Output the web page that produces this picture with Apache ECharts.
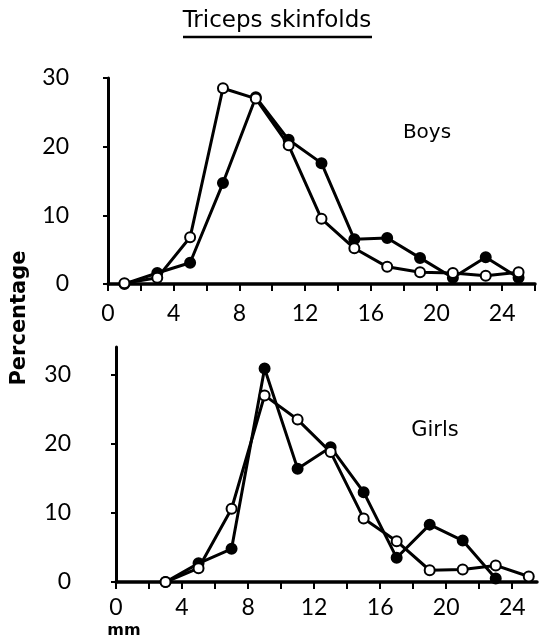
<!DOCTYPE html>
<html>
<head>
<meta charset="utf-8">
<script src="https://cdn.jsdelivr.net/npm/echarts@6/dist/echarts.min.js"></script>
<style>
  html, body { margin: 0; padding: 0; background: #fff; }
  #chart { width: 542px; height: 640px; }
</style>
</head>
<body>
<div id="chart"></div>
<script>
// 数据：中点 (mm) 与百分比
var boysX = [1, 3, 5, 7, 9, 11, 13, 15, 17, 19, 21, 23, 25];
var boysOpen = [0.1, 0.9, 6.8, 28.5, 27, 20.2, 9.5, 5.2, 2.5, 1.7, 1.6, 1.2, 1.7];
var boysFilled = [0, 1.6, 3.1, 14.7, 27.2, 21, 17.6, 6.5, 6.7, 3.8, 0.9, 3.9, 0.9];

var girlsX = [3, 5, 7, 9, 11, 13, 15, 17, 19, 21, 23, 25];
var girlsOpen = [0, 2.0, 10.6, 27, 23.5, 18.8, 9.2, 5.9, 1.7, 1.8, 2.4, 0.8];
var girlsFilledX = [3, 5, 7, 9, 11, 13, 15, 17, 19, 21, 23];
var girlsFilled = [0, 2.7, 4.8, 30.9, 16.4, 19.5, 13, 3.5, 8.3, 6, 0.5];

var xTicks = [0, 2, 4, 6, 8, 10, 12, 14, 16, 18, 20, 22, 24, 26];
var xLabels = [0, 4, 8, 12, 16, 20, 24];
var yTicks = [0, 10, 20, 30];

var font = "Lato";
var textFont = "DejaVu Sans";

function pairs(xs, ys) {
    return xs.map(function (x, i) { return [x, ys[i]]; });
}

function xAxisOf(gridIndex, max, margin) {
    return {
        type: "value",
        gridIndex: gridIndex,
        min: 0,
        max: max,
        axisLine: { lineStyle: { color: "#000", width: 3.5 } },
        axisTick: { customValues: xTicks.filter(function (v) { return v <= max; }), length: 7, lineStyle: { color: "#000", width: 2 } },
        axisLabel: { customValues: xLabels, color: "#000", fontSize: 23, fontFamily: font, margin: margin },
        splitLine: { show: false }
    };
}

function yAxisOf(gridIndex, max, offset) {
    return {
        type: "value",
        gridIndex: gridIndex,
        min: 0,
        max: max,
        offset: offset,
        axisLine: { show: true, lineStyle: { color: "#000", width: 3 } },
        axisTick: { show: true, customValues: yTicks, length: 5, lineStyle: { color: "#000", width: 2 } },
        axisLabel: { customValues: yTicks, color: "#000", fontSize: 23, fontFamily: font, margin: 22 },
        splitLine: { show: false }
    };
}

function line(name, xi, data, filled) {
    return {
        name: name,
        type: "line",
        xAxisIndex: xi,
        yAxisIndex: xi,
        data: data,
        symbol: "circle",
        symbolSize: 10,
        lineStyle: { color: "#000", width: 3 },
        itemStyle: { color: filled ? "#000" : "#fff", borderColor: "#000", borderWidth: 2 },
        z: filled ? 2 : 3,
        animation: false
    };
}

function txt(text, x, y, size, weight, rot) {
    return {
        type: "text", x: x, y: y, rotation: rot || 0,
        style: { text: text, fontSize: size, fontFamily: textFont, fontWeight: weight, fill: "#000", align: "center", verticalAlign: "middle" }
    };
}

var myChart = echarts.init(document.getElementById("chart"));

var option = {
    backgroundColor: "#fff",
    animation: false,
    grid: [
        { left: 108, top: 78, width: 427, height: 206 },
        { left: 116, top: 347, width: 421, height: 235 }
    ],
    xAxis: [xAxisOf(0, 26, 18), xAxisOf(1, 25.5, 14)],
    yAxis: [yAxisOf(0, 30, 17), yAxisOf(1, 34, 23)],
    series: [
        line("Boys filled", 0, pairs(boysX, boysFilled), true),
        line("Boys open", 0, pairs(boysX, boysOpen), false),
        line("Girls filled", 1, pairs(girlsFilledX, girlsFilled), true),
        line("Girls open", 1, pairs(girlsX, girlsOpen), false)
    ],
    graphic: [
        txt("Triceps skinfolds", 277, 21, 23, "normal"),
        { type: "line", shape: { x1: 183, y1: 37, x2: 372, y2: 37 }, style: { stroke: "#000", lineWidth: 2.5 } },
        txt("Percentage", 20, 318, 21, "bold", Math.PI / 2),
        txt("Boys", 427, 133, 20, "normal"),
        txt("Girls", 435, 431, 21, "normal"),
        txt("mm", 124, 631, 16, "bold")
    ]
};

myChart.setOption(option);
</script>
</body>
</html>
